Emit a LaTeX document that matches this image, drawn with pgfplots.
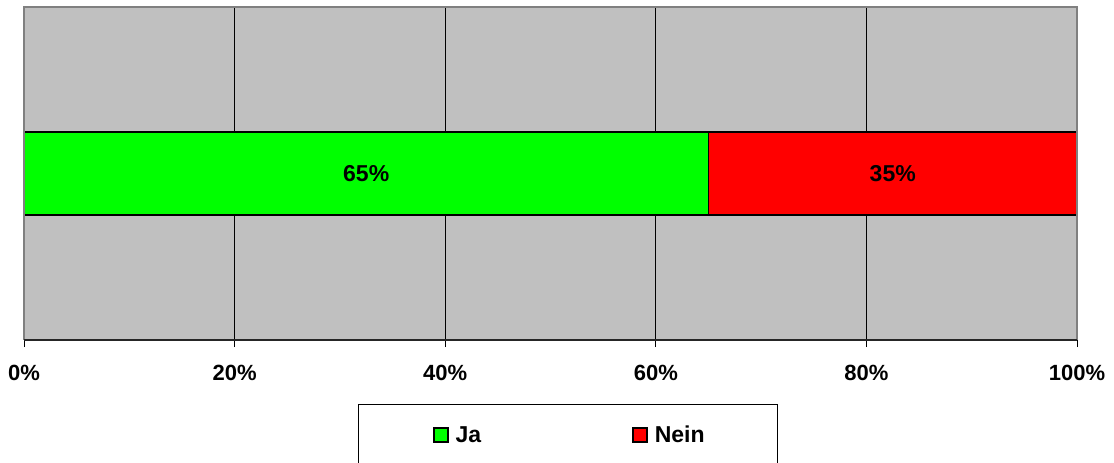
\documentclass[border=0pt]{standalone}
\usepackage{fontspec}
\setmainfont{Liberation Sans}
\usepackage{pgfplots}
\pgfplotsset{compat=1.18}
\definecolor{bg}{HTML}{C0C0C0}
\definecolor{framec}{HTML}{808080}
\definecolor{ja}{HTML}{00FF00}
\definecolor{nein}{HTML}{FF0000}
\newcommand{\lbl}{\fontsize{22}{26}\selectfont\bfseries}
\newcommand{\lblb}{\fontsize{23}{27}\selectfont\bfseries}
\begin{document}
\begin{tikzpicture}[x=1pt,y=1pt]
\path[use as bounding box] (0,0) rectangle (1114,463);
\draw[black, line width=1pt] (358,-10) rectangle (777,58);
\begin{axis}[
  name=ax,
  at={(24pt,123pt)}, anchor=south west,
  scale only axis, width=1053pt, height=333pt,
  xbar stacked, bar width=83pt,
  xmin=0, xmax=100, ymin=0, ymax=1,
  ytick=\empty,
  xtick={0,20,40,60,80,100},
  xticklabels={0\%,20\%,40\%,60\%,80\%,100\%},
  xticklabel style={font=\lbl, yshift=-15pt},
  xtick pos=bottom, tick align=outside, major tick length=7pt,
  tick style={black, line width=1pt},
  xmajorgrids, grid style={black, line width=0.8pt},
  axis background/.style={fill=bg},
  axis line style={draw=none},
  legend columns=2,
  legend style={draw=none, fill=none, at={(rel axis cs:0.3884,-0.2853)}, anchor=west,
    font=\lblb, inner sep=0pt, nodes={inner xsep=7pt, inner ysep=0pt},
    /tikz/every even column/.append style={column sep=144pt}},
  legend image code/.code={\draw[#1,draw=black,line width=1.5pt] (0pt,-7pt) rectangle (14pt,7pt);},
]
\addplot[fill=ja, draw=black, line width=1.5pt] coordinates {(65,0.5)};
\addplot[fill=nein, draw=black, line width=1.5pt] coordinates {(35,0.5)};
\legend{Ja,Nein}
\coordinate (c1) at (axis cs:32.5,0.5);
\coordinate (c2) at (axis cs:82.5,0.5);
\end{axis}
\node[font=\lblb] at (c1) {65\%};
\node[font=\lblb] at (c2) {35\%};
\draw[framec, line width=2pt] (ax.south west) -- (ax.north west) -- (ax.north east) -- (ax.south east);
\draw[black!85, line width=1.5pt] (ax.south west) -- (ax.south east);
\end{tikzpicture}
\end{document}
